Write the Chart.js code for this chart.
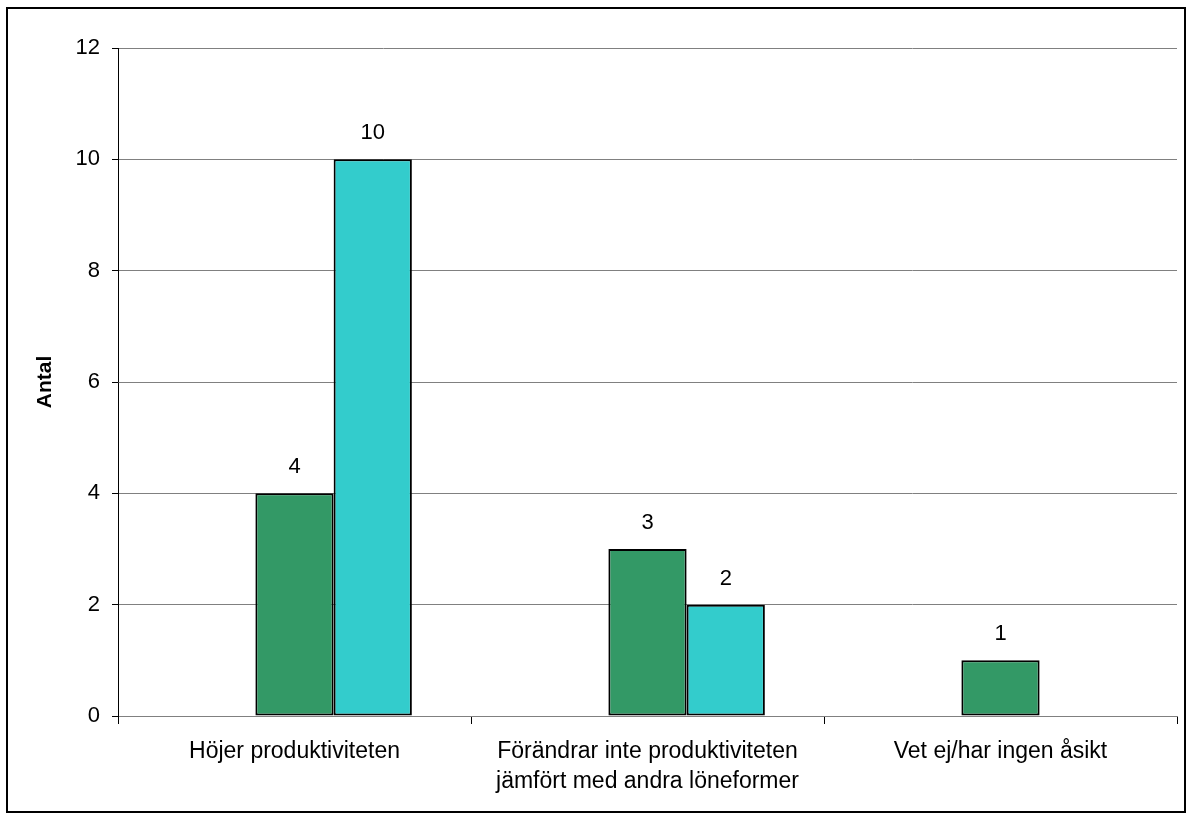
<!DOCTYPE html>
<html>
<head>
<meta charset="utf-8">
<script src="https://cdn.jsdelivr.net/npm/chart.js@4"></script>
<style>
    html, body { margin: 0; padding: 0; background: #fff; }
    #wrap { position: relative; width: 1192px; height: 819px; }
    #frame { position: absolute; left: 6px; top: 7px; width: 1176px; height: 802px; border: 2px solid #000; pointer-events: none; }
</style>
</head>
<body>
<div id="wrap">
    <canvas id="antalChart" width="1192" height="819"></canvas>
    <div id="frame"></div>
</div>
<script>
// Chart data
var categories = [
    "Höjer produktiviteten",
    ["Förändrar inte produktiviteten", "jämfört med andra löneformer"],
    "Vet ej/har ingen åsikt"
];
var blankValues = [0, 0, 0];
var greenValues = [4, 3, 1];
var cyanValues  = [10, 2, 0];
var yTicks      = [0, 2, 4, 6, 8, 10, 12];

var fontFamily = "'Liberation Sans', Arial, sans-serif";

// Value labels above the bars
var valueLabels = {
    id: "valueLabels",
    afterDatasetsDraw: function (chart)
    {
        var ctx = chart.ctx;
        ctx.save();
        ctx.font = "22px " + fontFamily;
        ctx.fillStyle = "#000";
        ctx.textAlign = "center";
        ctx.textBaseline = "middle";
        chart.data.datasets.forEach(function (ds, i)
        {
            if (ds.noLabels) return;
            chart.getDatasetMeta(i).data.forEach(function (bar, j)
            {
                var v = ds.data[j];
                if (!v) return;
                ctx.fillText(String(v), bar.x, bar.y - 26);
            });
        });
        ctx.restore();
    }
};

new Chart(document.getElementById("antalChart"), {
    type:    "bar",
    data:    {
        labels:   categories,
        datasets: [
            {
                data:            blankValues,
                backgroundColor: "rgba(0,0,0,0)",
                borderWidth:     0,
                noLabels:        true
            },
            {
                data:            greenValues,
                backgroundColor: "#339966",
                borderColor:     "#000",
                borderWidth:     2,
                borderSkipped:   false
            },
            {
                data:            cyanValues,
                backgroundColor: "#33CCCC",
                borderColor:     "#000",
                borderWidth:     2,
                borderSkipped:   false
            }
        ]
    },
    options: {
        responsive: false,
        animation:  false,
        events:     [],
        datasets:   {
            bar: {
                categoryPercentage: 0.665,
                barPercentage:      1
            }
        },
        layout:  {
            padding: { top: 48, right: 15, left: 0, bottom: 0 }
        },
        plugins: {
            legend:  { display: false },
            tooltip: { enabled: false }
        },
        scales:  {
            x: {
                offset:    true,
                grid:      {
                    offset:          true,
                    drawOnChartArea: false,
                    drawTicks:       true,
                    tickLength:      8,
                    tickColor:       "#000"
                },
                border:    { color: "#808080", width: 1 },
                ticks:     {
                    color:       "#000",
                    padding:     12,
                    maxRotation: 0,
                    autoSkip:    false,
                    font:        { family: fontFamily, size: 23, lineHeight: 1.33 }
                },
                afterFit:  function (scale) { scale.height = 103; }
            },
            y: {
                min:       0,
                max:       12,
                afterBuildTicks: function (scale)
                {
                    scale.ticks = yTicks.map(function (v) { return { value: v }; });
                },
                grid:      {
                    color:      "#808080",
                    tickColor:  "#000",
                    tickLength: 6
                },
                border:    { color: "#000", width: 1 },
                ticks:     {
                    color:   "#000",
                    padding: 12,
                    font:    { family: fontFamily, size: 22 }
                },
                title:     {
                    display: true,
                    text:    "Antal",
                    color:   "#000",
                    padding: { top: 33, bottom: 0 },
                    font:    { family: fontFamily, size: 21, weight: "bold" }
                },
                afterFit:  function (scale) { scale.width = 118; }
            }
        }
    },
    plugins: [valueLabels]
});
</script>
</body>
</html>
